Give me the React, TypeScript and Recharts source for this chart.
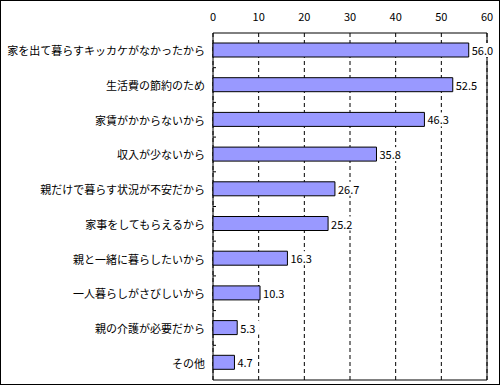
import React from 'react';
import {
  BarChart,
  Bar,
  XAxis,
  YAxis,
  CartesianGrid,
  ReferenceArea,
  LabelList,
} from 'recharts';

const reasons = [
  '家を出て暮らすキッカケがなかったから',
  '生活費の節約のため',
  '家賃がかからないから',
  '収入が少ないから',
  '親だけで暮らす状況が不安だから',
  '家事をしてもらえるから',
  '親と一緒に暮らしたいから',
  '一人暮らしがさびしいから',
  '親の介護が必要だから',
  'その他',
];

const percents = [56.0, 52.5, 46.3, 35.8, 26.7, 25.2, 16.3, 10.3, 5.3, 4.7];

const xTicks = [0, 10, 20, 30, 40, 50, 60];

const data = reasons.map((name, i) => ({ name, value: percents[i] }));

const W = 500;
const H = 385;
const margin = { top: 13, right: 13, bottom: 5, left: 0 };
const topAxisH = 20;
const yAxisW = 213;
const band = (H - margin.top - margin.bottom - topAxisH) / reasons.length;
const FONT = '"Noto Sans CJK JP", "Noto Sans", sans-serif';

const CategoryTick = (props: any) => {
  const { x, y, payload, index } = props;
  const last = index === reasons.length - 1;
  return (
    <g>
      <text
        x={x}
        y={y}
        textAnchor="end"
        dominantBaseline="central"
        fontSize={11}
        fontFamily={FONT}
        fill="#000"
      >
        {payload.value}
      </text>
      {!last && (
        <line x1={x + 8} x2={x + 11} y1={y + band / 2} y2={y + band / 2} stroke="#000" />
      )}
    </g>
  );
};

// value label with a white box behind it, so grid lines don't run through the text
const ValueLabel = (props: any) => {
  const { x, y, width, height, value } = props;
  const txt = Number(value).toFixed(1);
  const tx = x + width + 3;
  const cy = y + height / 2;
  const boxW = txt.length * 6.2 + 2;
  return (
    <g>
      <rect x={tx - 1} y={cy - 7} width={boxW} height={14} fill="#fff" />
      <text
        x={tx}
        y={cy}
        dominantBaseline="central"
        fontSize={11}
        fontFamily={FONT}
        fill="#000"
      >
        {txt}
      </text>
    </g>
  );
};

export default function App() {
  return (
    <div
      style={{
        position: 'absolute',
        left: 0,
        top: 0,
        width: W,
        height: H,
        fontFamily: FONT,
        background: '#fff',
      }}
    >
      <div
        style={{
          position: 'absolute',
          left: 0,
          top: 0,
          width: W - 2,
          height: H - 2,
          border: '1px solid #000',
          pointerEvents: 'none',
        }}
      />
      <BarChart
        width={W}
        height={H}
        data={data}
        layout="vertical"
        margin={margin}
        barCategoryGap={0}
      >
        <CartesianGrid
          horizontal={false}
          vertical
          stroke="#000"
          strokeDasharray="4 3"
        />
        <XAxis
          type="number"
          orientation="top"
          domain={[0, 60]}
          ticks={xTicks}
          height={topAxisH}
          axisLine={false}
          tickLine={false}
          tickSize={10}
          tickMargin={2}
          tick={{ fontSize: 11, fill: '#000', fontFamily: FONT }}
        />
        <YAxis
          type="category"
          dataKey="name"
          width={yAxisW}
          axisLine={false}
          tickLine={false}
          tickSize={0}
          tickMargin={8}
          interval={0}
          tick={<CategoryTick />}
        />
        <ReferenceArea x1={0} x2={60} fill="none" stroke="#000" strokeWidth={1} ifOverflow="visible" />
        <Bar
          dataKey="value"
          fill="#9999FF"
          stroke="#000"
          strokeWidth={1}
          barSize={14}
          isAnimationActive={false}
        >
          <LabelList dataKey="value" content={<ValueLabel />} />
        </Bar>
      </BarChart>
    </div>
  );
}
